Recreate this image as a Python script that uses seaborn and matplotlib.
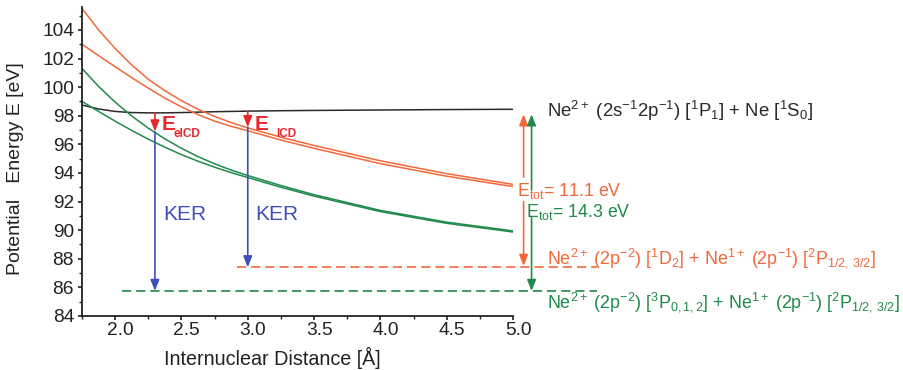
import matplotlib
matplotlib.use("Agg")
import matplotlib.pyplot as plt
import matplotlib.transforms as mtransforms
from matplotlib.ticker import MultipleLocator
import numpy as np
import pandas as pd
import seaborn as sns

# ---------------- data ----------------
r = [1.75, 1.875, 2.0, 2.125, 2.25, 2.375, 2.5, 2.625, 2.75, 2.875, 3.0, 3.25, 3.5, 4.0, 4.5, 5.0]
E_initial = [98.75, 98.47, 98.3, 98.22, 98.2, 98.2, 98.22, 98.25, 98.28, 98.3, 98.32, 98.35, 98.37, 98.4, 98.43, 98.45]
E_orange_a = [105.5, 104.0, 102.7, 101.55, 100.55, 99.75, 99.05, 98.45, 97.95, 97.52, 97.15, 96.5, 95.92, 94.85, 93.95, 93.2]
E_orange_b = [103.0, 102.2, 101.42, 100.66, 99.93, 99.23, 98.62, 98.08, 97.62, 97.26, 96.95, 96.3, 95.72, 94.65, 93.77, 93.05]
E_green_c = [101.3, 100.05, 98.95, 97.98, 97.13, 96.38, 95.72, 95.14, 94.64, 94.2, 93.82, 93.12, 92.48, 91.38, 90.56, 89.95]
E_green_d = [99.0, 98.3, 97.62, 96.97, 96.36, 95.8, 95.28, 94.82, 94.4, 94.02, 93.68, 93.0, 92.38, 91.3, 90.48, 89.87]
curve_names = ["initial", "orange_a", "orange_b", "green_c", "green_d"]

# asymptotic final-state levels [eV] and their drawn r-ranges [Å]
level_orange = 87.4
level_green = 85.75
level_orange_r = [2.92, 5.63]
level_green_r = [2.05, 5.63]

# transitions
eicd_r, eicd_top, eicd_mid = 2.3, 98.2, 96.9
icd_r, icd_top, icd_mid = 3.0, 98.3, 97.2
etot_orange_r, etot_green_r = 5.08, 5.14
etot_top = 98.1

y_ticks = [84, 86, 88, 90, 92, 94, 96, 98, 100, 102, 104]
x_ticks = [2.0, 2.5, 3.0, 3.5, 4.0, 4.5, 5.0]

label_initial = r"Ne$^{2+}$ (2s$^{-1}$2p$^{-1}$) [$^{1}$P$_{1}$] + Ne [$^{1}$S$_{0}$]"
label_orange = r"Ne$^{2+}$ (2p$^{-2}$) [$^{1}$D$_{2}$] + Ne$^{1+}$ (2p$^{-1}$) [$^{2}$P$_{1/2,\,3/2}$]"
label_green = r"Ne$^{2+}$ (2p$^{-2}$) [$^{3}$P$_{0,1,2}$] + Ne$^{1+}$ (2p$^{-1}$) [$^{2}$P$_{1/2,\,3/2}$]"
etot_orange_text = r"E$_{tot}$= 11.1 eV"
etot_green_text = r"E$_{tot}$= 14.3 eV"

# ---------------- style ----------------
ORANGE = "#f2683a"
GREEN = "#1f8a4a"
RED = "#e8262e"
BLUE = "#3f4fb5"
BLACK = "#2a2a2a"

sns.set_theme(style="ticks")
plt.rcParams["font.family"] = ["Liberation Sans", "DejaVu Sans"]
plt.rcParams["mathtext.fontset"] = "custom"
plt.rcParams["mathtext.rm"] = "Liberation Sans"
plt.rcParams["mathtext.it"] = "Liberation Sans"
plt.rcParams["mathtext.bf"] = "Liberation Sans:bold"

df = pd.DataFrame({
    "r": r * 5,
    "E": E_initial + E_orange_a + E_orange_b + E_green_c + E_green_d,
    "curve": sum([[n] * len(r) for n in curve_names], []),
})
palette = {"initial": BLACK, "orange_a": ORANGE, "orange_b": ORANGE,
           "green_c": GREEN, "green_d": GREEN}

fig = plt.figure(figsize=(9.04, 3.70), dpi=100)
ax = fig.add_axes([82 / 904, 54 / 370, 431 / 904, 309 / 370])

sns.lineplot(data=df, x="r", y="E", hue="curve", palette=palette, legend=False,
             linewidth=1.1, ax=ax, sort=False)

dash = (0, (5.5, 3))
ax.plot(level_orange_r, [level_orange] * 2, color=ORANGE, lw=1.2, ls=dash, clip_on=False)
ax.plot(level_green_r, [level_green] * 2, color=GREEN, lw=1.2, ls=dash, clip_on=False)

ax.set_xlim(1.75, 5.0)
ax.set_ylim(84, 105.6)
ax.set_xticks(x_ticks)
ax.set_yticks(y_ticks)
ax.xaxis.set_minor_locator(MultipleLocator(0.25))
ax.yaxis.set_minor_locator(MultipleLocator(1))
ax.set_xticklabels([f"{v:.1f}" for v in x_ticks])
ax.set_yticklabels([str(v) for v in y_ticks])
sns.despine(ax=ax)
for s in ("left", "bottom"):
    ax.spines[s].set_linewidth(1.3)
    ax.spines[s].set_color("#222222")
ax.tick_params(axis="both", which="major", length=3.2, width=1.2, direction="out",
               labelsize=13.8, colors="#222222")
ax.tick_params(axis="both", which="minor", length=2.2, width=1.0, direction="out",
               colors="#222222")
ax.tick_params(axis="x", which="major", pad=1)
ax.tick_params(axis="y", which="major", pad=2.5)
off = mtransforms.ScaledTranslation(5 / 100, 0, fig.dpi_scale_trans)
for lab in ax.get_xticklabels():
    lab.set_transform(lab.get_transform() + off)

ax.set_xlabel("Internuclear Distance [Å]", fontsize=14.2, color="#222222")
ax.set_ylabel("Potential   Energy E [eV]", fontsize=14, color="#222222")
ax.xaxis.set_label_coords(0.441, -0.1)
ax.yaxis.set_label_coords(-0.135, 0.478)


def arrow(x, y0, y1, color, lw=1.2):
    ax.annotate("", xy=(x, y1), xytext=(x, y0), annotation_clip=False,
                arrowprops=dict(arrowstyle="-|>,head_length=0.55,head_width=0.22",
                                color=color, lw=lw, shrinkA=0, shrinkB=0,
                                mutation_scale=12))


# ICD / eICD transitions
arrow(eicd_r, eicd_top, eicd_mid, RED)
arrow(eicd_r, eicd_mid, level_green, BLUE)
arrow(icd_r, icd_top, icd_mid, RED)
arrow(icd_r, icd_mid, level_orange, BLUE)

ax.text(2.352, 97.37, "E", color=RED, fontsize=15, fontweight="bold", va="center", ha="left")
ax.text(2.44, 96.75, "eICD", color=RED, fontsize=8.5, fontweight="bold", va="center", ha="left")
ax.text(3.055, 97.37, "E", color=RED, fontsize=15, fontweight="bold", va="center", ha="left")
ax.text(3.215, 96.75, "ICD", color=RED, fontsize=8.5, fontweight="bold", va="center", ha="left")
ax.text(2.36, 91.1, "KER", color=BLUE, fontsize=15, va="center", ha="left")
ax.text(3.055, 91.1, "KER", color=BLUE, fontsize=15, va="center", ha="left")

# total energy arrows
arrow(etot_orange_r, 93.7, etot_top, ORANGE)
arrow(etot_orange_r, 92.0, level_orange + 0.1, ORANGE)
arrow(etot_green_r, 92.8, etot_top, GREEN)
arrow(etot_green_r, 90.9, level_green, GREEN)
ax.text(5.03, 92.75, etot_orange_text, color=ORANGE, fontsize=12.8, va="center", ha="left")
ax.text(5.10, 91.25, etot_green_text, color=GREEN, fontsize=12.8, va="center", ha="left")

# state labels
ax.text(5.255, 98.3, label_initial, color=BLACK, fontsize=13.4, va="center", ha="left")
ax.text(5.255, 88.05, label_orange, color=ORANGE, fontsize=12.9, va="center", ha="left")
ax.text(5.255, 85.0, label_green, color=GREEN, fontsize=12.9, va="center", ha="left")

fig.savefig("out.png", dpi=100)
